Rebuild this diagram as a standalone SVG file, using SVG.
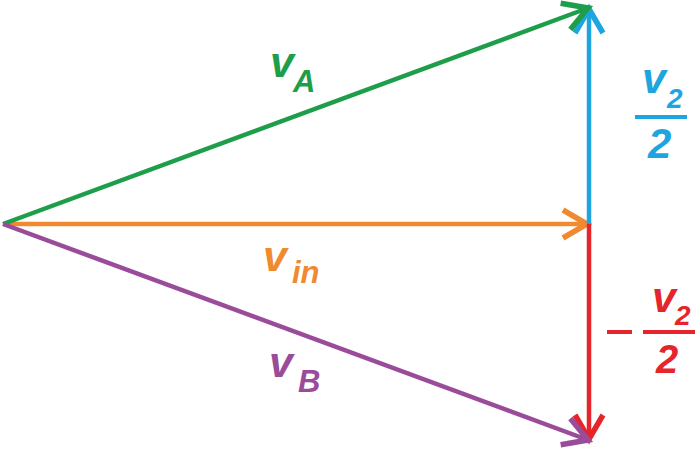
<svg xmlns="http://www.w3.org/2000/svg" width="695" height="450" viewBox="0 0 695 450">
<style>
.ln{fill:none;stroke-width:4.5;stroke-linecap:butt}
.t{font-family:"Liberation Sans",Arial,sans-serif;font-weight:bold;font-style:italic}
.big{font-size:43px}
.sub{font-size:31px}
</style>
<defs>
<marker id="ag" markerUnits="userSpaceOnUse" viewBox="-40 -30 50 60" markerWidth="50" markerHeight="60" refX="0" refY="0" orient="auto"><path d="M-24,-14 L0,0 L-24,14" fill="none" stroke="#1e9e4a" stroke-width="5.5"/></marker>
<marker id="ab" markerUnits="userSpaceOnUse" viewBox="-40 -30 50 60" markerWidth="50" markerHeight="60" refX="0" refY="0" orient="auto"><path d="M-24,-14 L0,0 L-24,14" fill="none" stroke="#1ea5e0" stroke-width="5.5"/></marker>
<marker id="ao" markerUnits="userSpaceOnUse" viewBox="-40 -30 50 60" markerWidth="50" markerHeight="60" refX="0" refY="0" orient="auto"><path d="M-24,-14 L0,0 L-24,14" fill="none" stroke="#f08a30" stroke-width="5.5"/></marker>
<marker id="ar" markerUnits="userSpaceOnUse" viewBox="-40 -30 50 60" markerWidth="50" markerHeight="60" refX="0" refY="0" orient="auto"><path d="M-24,-14 L0,0 L-24,14" fill="none" stroke="#e6242b" stroke-width="5.5"/></marker>
<marker id="ap" markerUnits="userSpaceOnUse" viewBox="-40 -30 50 60" markerWidth="50" markerHeight="60" refX="0" refY="0" orient="auto"><path d="M-24,-14 L0,0 L-24,14" fill="none" stroke="#9a4c9a" stroke-width="5.5"/></marker>
</defs>
<g id="connectors">
<line class="ln" x1="3" y1="224" x2="587" y2="224" stroke="#f08a30" marker-end="url(#ao)"/>
<line class="ln" x1="589" y1="224" x2="589" y2="9" stroke="#1ea5e0" marker-end="url(#ab)"/>
<line class="ln" x1="589" y1="224" x2="589" y2="439" stroke="#e6242b" marker-end="url(#ar)"/>
<line class="ln" x1="3" y1="224" x2="588" y2="8" stroke="#1e9e4a" marker-end="url(#ag)"/>
<line class="ln" x1="3" y1="224" x2="588" y2="440" stroke="#9a4c9a" marker-end="url(#ap)"/>
</g>
<g id="label-vA" fill="#1e9e4a">
<text class="t big" x="270" y="77">v</text>
<text class="t sub" x="293" y="92">A</text>
</g>
<g id="label-vin" fill="#f08a30">
<text class="t big" x="263" y="271">v</text>
<text class="t sub" x="292" y="283">in</text>
</g>
<g id="label-vB" fill="#9a4c9a">
<text class="t big" x="269" y="377">v</text>
<text class="t sub" x="298" y="392">B</text>
</g>
<g id="label-plus" fill="#1ea5e0">
<text class="t big" x="642" y="93">v</text>
<text class="t" x="667" y="108" font-size="28">2</text>
<rect x="635" y="115" width="52" height="4"/>
<text class="t" x="648" y="158" font-size="42">2</text>
</g>
<g id="label-minus" fill="#e6242b">
<rect x="607" y="330" width="25" height="4"/>
<text class="t big" x="652" y="312">v</text>
<text class="t" x="675" y="325" font-size="28">2</text>
<rect x="643" y="330" width="52" height="4"/>
<text class="t" x="656" y="373" font-size="40">2</text>
</g>
</svg>
